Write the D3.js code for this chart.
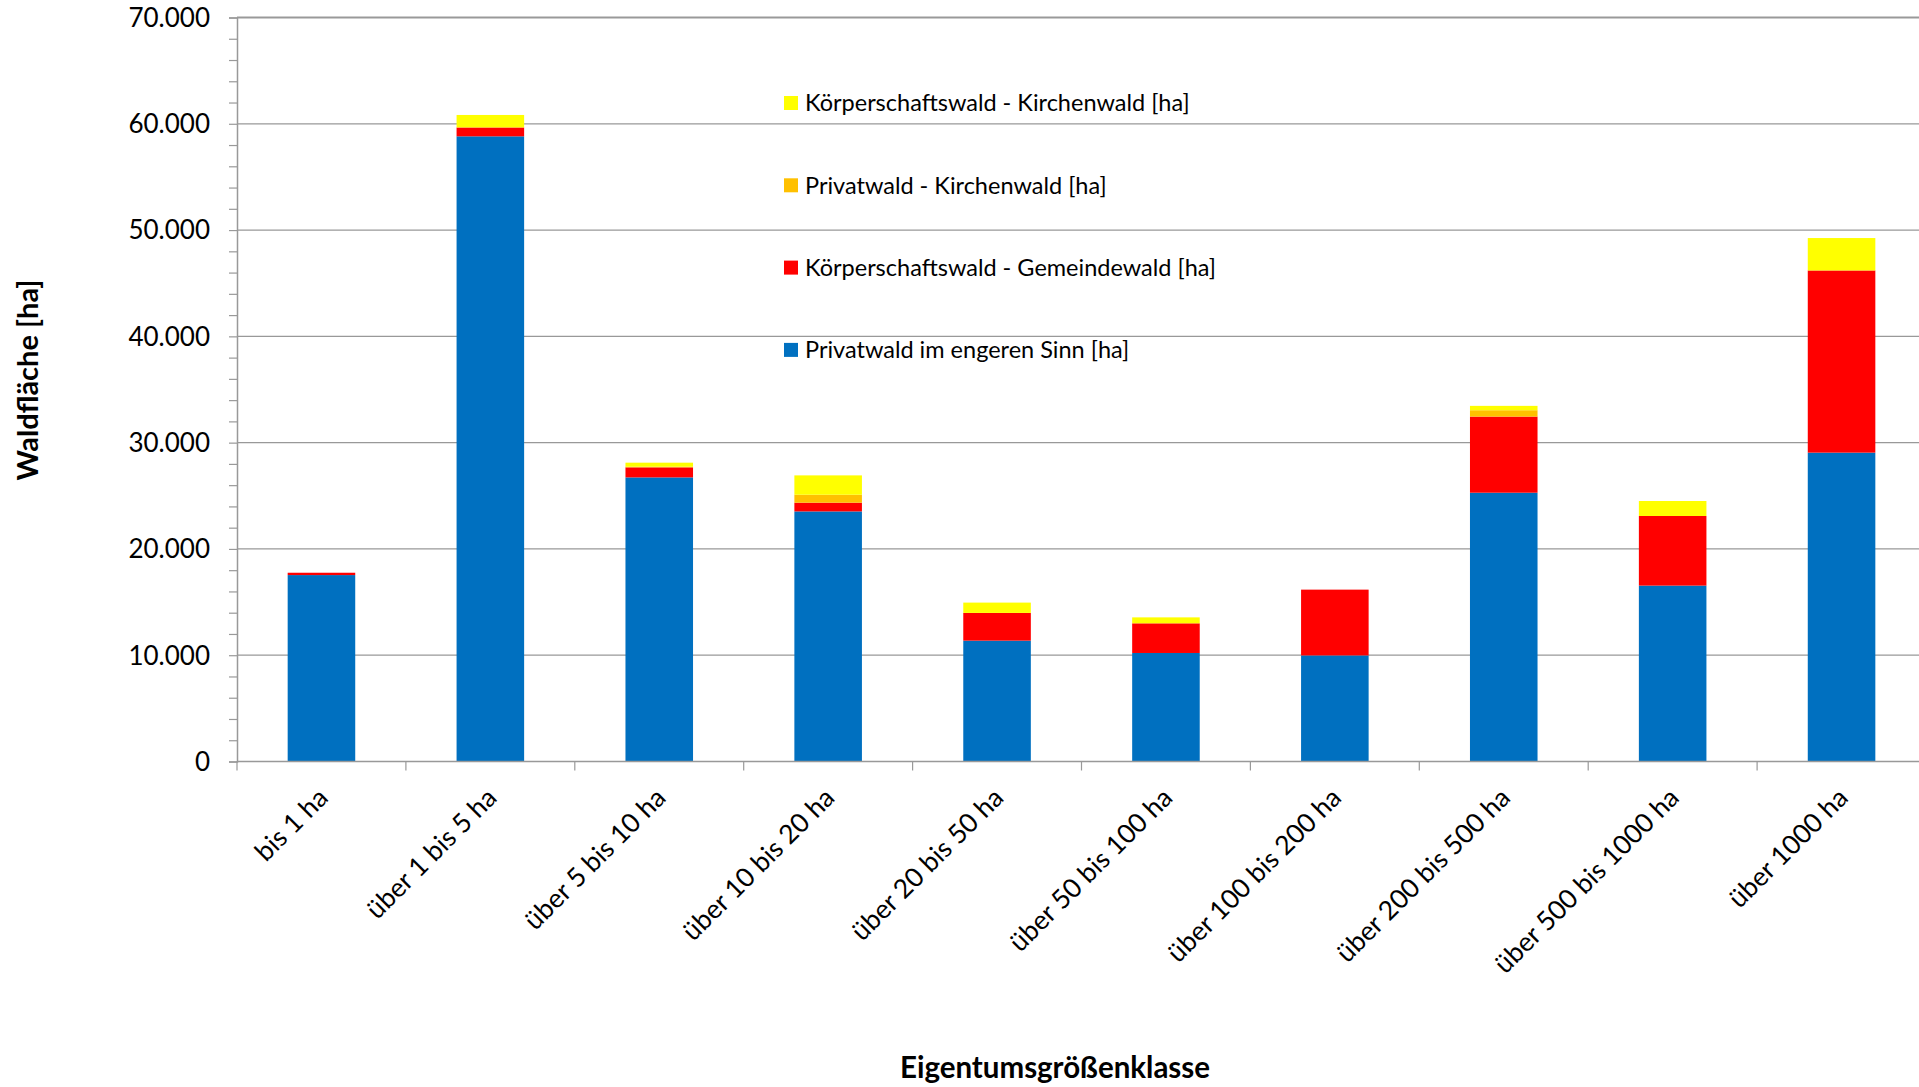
<!DOCTYPE html>
<html>
<head>
<meta charset="utf-8">
<script src="https://cdn.jsdelivr.net/npm/d3@7"></script>
<style>
  body { margin: 0; background: #fff; }
  text { font-family: Lato, "Open Sans", sans-serif; fill: #000; }
</style>
</head>
<body>
<div id="chart"></div>
<script>
// categories and series (ha)
var categories = ["bis 1 ha", "über 1 bis 5 ha", "über 5 bis 10 ha", "über 10 bis 20 ha",
  "über 20 bis 50 ha", "über 50 bis 100 ha", "über 100 bis 200 ha", "über 200 bis 500 ha",
  "über 500 bis 1000 ha", "über 1000 ha"];
var privatwaldEng = [17540, 58820, 26730, 23530, 11370, 10210, 9980, 25290, 16550, 29060];
var gemeindewald  = [220, 820, 945, 820, 2610, 2790, 6190, 7160, 6550, 17140];
var privKirche    = [0, 50, 60, 750, 0, 0, 0, 600, 0, 0];
var koerpKirche   = [0, 1140, 380, 1820, 970, 560, 0, 410, 1410, 3050];
var yTicks = [0, 10000, 20000, 30000, 40000, 50000, 60000, 70000];

var seriesNames = ["Privatwald im engeren Sinn [ha]", "Körperschaftswald - Gemeindewald [ha]",
  "Privatwald - Kirchenwald [ha]", "Körperschaftswald - Kirchenwald [ha]"];
var seriesColors = ["#0070C0", "#FF0000", "#FFC000", "#FFFF00"];
var seriesValues = [privatwaldEng, gemeindewald, privKirche, koerpKirche];

var W = 1919, H = 1087;
var svg = d3.select("#chart").append("svg")
  .attr("width", W).attr("height", H);

// build rows for d3.stack
var keys = ["s0", "s1", "s2", "s3"];
var rows = categories.map(function(c, i) {
  var r = {cat: c};
  keys.forEach(function(k, j) { r[k] = seriesValues[j][i]; });
  return r;
});
var stacked = d3.stack().keys(keys)(rows);

var x = d3.scaleBand()
  .domain(categories)
  .range([237, 1926])
  .paddingInner(0.6)
  .paddingOuter(0.3);

var y = d3.scaleLinear()
  .domain([0, 70000])
  .range([761.5, 17.5]);

// gridlines
svg.append("g")
  .selectAll("line")
  .data(yTicks.slice(1))
  .enter().append("line")
    .attr("x1", 237).attr("x2", W)
    .attr("y1", function(d) { return y(d); })
    .attr("y2", function(d) { return y(d); })
    .attr("stroke", "#999")
    .attr("stroke-width", function(d) { return d == 70000 ? 2 : 1.3; });

// bars
svg.append("g")
  .selectAll("g")
  .data(stacked)
  .enter().append("g")
    .attr("fill", function(d, i) { return seriesColors[i]; })
  .selectAll("rect")
  .data(function(d) { return d; })
  .enter().append("rect")
    .attr("x", function(d) { return x(d.data.cat); })
    .attr("width", x.bandwidth())
    .attr("y", function(d) { return y(d[1]); })
    .attr("height", function(d) { return y(d[0]) - y(d[1]); });

// y axis with minor ticks
var yAxis = svg.append("g")
  .attr("transform", "translate(237,0)")
  .call(d3.axisLeft(y).tickValues(d3.range(0, 70001, 2000)).tickSize(8).tickFormat(""));
yAxis.selectAll("line").attr("stroke", "#999").attr("stroke-width", 1.2);
yAxis.select(".domain").attr("stroke", "#999").attr("stroke-width", 1.5);

svg.append("g")
  .selectAll("text")
  .data(yTicks)
  .enter().append("text")
    .attr("x", 210)
    .attr("y", function(d) { return y(d); })
    .attr("dy", "0.36em")
    .attr("text-anchor", "end")
    .style("font-size", "26px")
    .text(function(d) { return d3.format(",")(d).replace(/,/g, "."); });

// x axis
var xAxis = svg.append("g")
  .attr("transform", "translate(0,761.5)");
xAxis.append("line")
  .attr("x1", 237).attr("x2", W)
  .attr("stroke", "#999").attr("stroke-width", 1.5);
xAxis.selectAll(".tk")
  .data(d3.range(0, categories.length + 1))
  .enter().append("line")
    .attr("class", "tk")
    .attr("x1", function(i) { return 237 + i * x.step(); })
    .attr("x2", function(i) { return 237 + i * x.step(); })
    .attr("y1", 0).attr("y2", 9)
    .attr("stroke", "#999").attr("stroke-width", 1.2);

xAxis.selectAll(".lbl")
  .data(categories)
  .enter().append("text")
    .attr("class", "lbl")
    .attr("text-anchor", "end")
    .style("font-size", "26.5px")
    .attr("transform", function(d) {
      return "translate(" + (x(d) + x.bandwidth() / 2 + 8) + ",38) rotate(-45)";
    })
    .text(function(d) { return d; });

// axis titles
svg.append("text")
  .attr("transform", "translate(38,380) rotate(-90)")
  .attr("text-anchor", "middle")
  .style("font-size", "29px")
  .style("font-weight", "bold")
  .text("Waldfläche [ha]");

svg.append("text")
  .attr("x", 1055).attr("y", 1078)
  .attr("text-anchor", "middle")
  .style("font-size", "29.5px")
  .style("font-weight", "bold")
  .text("Eigentumsgrößenklasse");

// legend (top to bottom: last series first)
var legendRows = [3, 2, 1, 0];
var legend = svg.append("g")
  .selectAll("g")
  .data(legendRows)
  .enter().append("g")
    .attr("transform", function(d, i) { return "translate(784," + (103 + i * 82.3) + ")"; });
legend.append("rect")
  .attr("x", 0).attr("y", -7).attr("width", 14).attr("height", 14)
  .attr("fill", function(d) { return seriesColors[d]; });
legend.append("text")
  .attr("x", 21).attr("dy", "0.36em")
  .style("font-size", "23.5px")
  .text(function(d) { return seriesNames[d]; });
</script>
</body>
</html>
